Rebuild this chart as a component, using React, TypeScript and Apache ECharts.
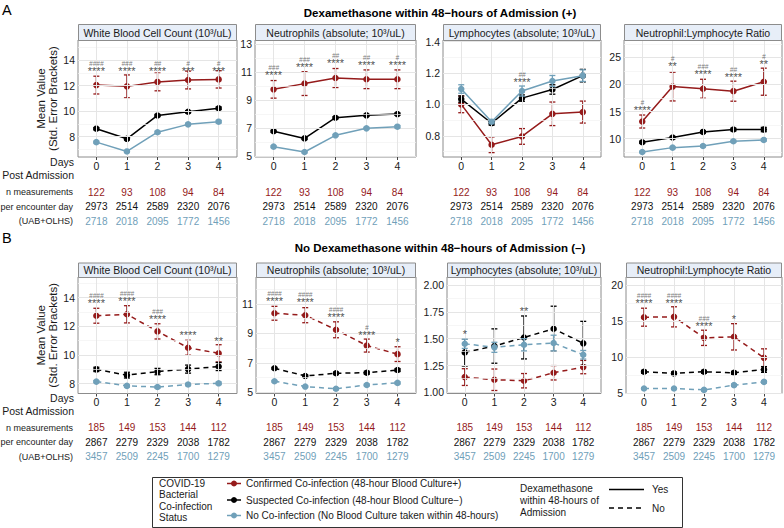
import React, { useEffect, useRef } from 'react';
import * as echarts from 'echarts';

// ---------------- DATA ----------------
const dayValues = [0, 1, 2, 3, 4];

// counts (n measurements per encounter day)
const nA_conf = [122, 93, 108, 94, 84];
const nA_susp = [2973, 2514, 2589, 2320, 2076];
const nA_none = [2718, 2018, 2095, 1772, 1456];
const nB_conf = [185, 149, 153, 144, 112];
const nB_susp = [2867, 2279, 2329, 2038, 1782];
const nB_none = [3457, 2509, 2245, 1700, 1279];

// Panel A1: WBC, dexamethasone +
const aWbcConf = [12.05, 11.95, 12.3, 12.45, 12.5];
const aWbcConfSE = [0.7, 0.9, 0.7, 0.7, 0.68];
const aWbcSusp = [8.62, 7.82, 9.66, 9.95, 10.23];
const aWbcSuspSE = [0.08, 0.08, 0.08, 0.09, 0.1];
const aWbcNone = [7.56, 6.83, 8.34, 8.96, 9.17];
const aWbcNoneSE = [0.07, 0.07, 0.08, 0.09, 0.1];
const aWbcStarY = [13.4, 13.4, 13.4, 13.4, 13.4];
const aWbcStars = ['****', '****', '****', '***', '***'];
const aWbcHash = ['####', '###', '##', '#', '#'];

// Panel A2: Neutrophils
const aNeuConf = [9.77, 10.18, 10.58, 10.49, 10.49];
const aNeuConfSE = [0.63, 0.85, 0.68, 0.67, 0.67];
const aNeuSusp = [6.77, 6.26, 7.74, 7.91, 8.0];
const aNeuSuspSE = [0.07, 0.07, 0.07, 0.07, 0.08];
const aNeuNone = [5.67, 5.29, 6.48, 6.98, 7.1];
const aNeuNoneSE = [0.06, 0.06, 0.06, 0.07, 0.08];
const aNeuStarY = [11.01, 11.61, 11.85, 11.75, 11.75];
const aNeuStars = ['****', '****', '****', '****', '****'];
const aNeuHash = ['###', '###', '##', '##', '#'];

// Panel A3: Lymphocytes
const aLymConf = [1.0, 0.743, 0.796, 0.94, 0.951];
const aLymConfSE = [0.053, 0.05, 0.05, 0.075, 0.07];
const aLymSusp = [1.034, 0.88, 1.04, 1.095, 1.183];
const aLymSuspSE = [0.02, 0.012, 0.02, 0.03, 0.04];
const aLymNone = [1.098, 0.89, 1.085, 1.149, 1.183];
const aLymNoneSE = [0.027, 0.012, 0.032, 0.035, 0.037];
const aLymStarY = [null, null, 1.16, null, null];
const aLymStars = ['', '', '****', '', ''];
const aLymHash = ['', '', '##', '', ''];

// Panel A4: NLR
const aNlrConf = [13.15, 19.6, 19.2, 18.75, 20.5];
const aNlrConfSE = [1.2, 2.65, 1.75, 1.85, 2.5];
const aNlrSusp = [9.32, 10.19, 11.23, 11.67, 11.67];
const aNlrSuspSE = [0.2, 0.2, 0.2, 0.25, 0.4];
const aNlrNone = [7.53, 8.33, 8.64, 9.5, 9.75];
const aNlrNoneSE = [0.12, 0.15, 0.15, 0.2, 0.2];
const aNlrStarY = [15.74, 23.9, 22.4, 22.0, 24.3];
const aNlrStars = ['****', '**', '****', '****', '**'];
const aNlrHash = ['#', '#', '###', '##', '#'];

// Panel B1: WBC, no dexamethasone
const bWbcConf = [12.74, 12.84, 11.65, 10.51, 10.12];
const bWbcConfSE = [0.52, 0.6, 0.53, 0.52, 0.6];
const bWbcSusp = [9.0, 8.6, 8.85, 9.02, 9.2];
const bWbcSuspSE = [0.15, 0.2, 0.22, 0.28, 0.28];
const bWbcNone = [8.15, 7.85, 7.77, 7.95, 8.03];
const bWbcNoneSE = [0.07, 0.07, 0.07, 0.08, 0.09];
const bWbcStarY = [13.84, 14.0, 12.72, 11.58, 11.21];
const bWbcStars = ['****', '****', '****', '****', '**'];
const bWbcHash = ['####', '####', '###', '', ''];

// Panel B2: Neutrophils
const bNeuConf = [10.37, 10.24, 9.25, 8.18, 7.6];
const bNeuConfSE = [0.47, 0.51, 0.54, 0.44, 0.5];
const bNeuSusp = [6.64, 6.12, 6.3, 6.34, 6.52];
const bNeuSuspSE = [0.06, 0.07, 0.08, 0.1, 0.1];
const bNeuNone = [5.76, 5.4, 5.25, 5.51, 5.65];
const bNeuNoneSE = [0.05, 0.05, 0.06, 0.06, 0.07];
const bNeuStarY = [11.43, 11.36, 10.3, 9.13, 8.6];
const bNeuStars = ['****', '****', '****', '****', '*'];
const bNeuHash = ['####', '####', '####', '#', ''];

// Panel B3: Lymphocytes
const bLymConf = [1.143, 1.118, 1.109, 1.183, 1.236];
const bLymConfSE = [0.078, 0.1, 0.067, 0.067, 0.062];
const bLymSusp = [1.373, 1.432, 1.512, 1.593, 1.457];
const bLymSuspSE = [0.127, 0.16, 0.2, 0.21, 0.205];
const bLymNone = [1.453, 1.42, 1.444, 1.46, 1.351];
const bLymNoneSE = [0.043, 0.047, 0.057, 0.073, 0.04];
const bLymStarY = [1.575, null, 1.79, null, null];
const bLymStars = ['*', '', '**', '', ''];
const bLymHash = ['', '', '', '', ''];

// Panel B4: NLR
const bNlrConf = [15.51, 15.56, 12.64, 12.78, 9.86];
const bNlrConfSE = [1.25, 1.4, 1.06, 1.83, 1.25];
const bNlrSusp = [7.92, 7.69, 7.92, 7.78, 8.24];
const bNlrSuspSE = [0.2, 0.2, 0.2, 0.2, 0.4];
const bNlrNone = [5.6, 5.6, 5.4, 6.06, 6.52];
const bNlrNoneSE = [0.12, 0.12, 0.12, 0.15, 0.18];
const bNlrStarY = [17.96, 17.96, 14.77, 15.74, null];
const bNlrStars = ['****', '****', '****', '*', ''];
const bNlrHash = ['####', '####', '###', '', ''];

// axis definitions
const titles = [
  'White Blood Cell Count (10³/uL)',
  'Neutrophils (absolute; 10³/uL)',
  'Lymphocytes (absolute; 10³/uL)',
  'Neutrophil:Lymphocyte Ratio',
];
const aRanges = [[6.39, 15.6], [4.93, 13.3], [0.665, 1.41], [6.6, 28.2]];
const bRanges = [[7.32, 15.44], [4.93, 12.83], [0.99, 2.075], [4.9, 21.1]];
const aTicks = [[8, 10, 12, 14], [5, 7, 9, 11, 13], [0.8, 1.0, 1.2, 1.4], [10, 15, 20, 25]];
const aMinor = [[7, 9, 11, 13, 15], [6, 8, 10, 12], [0.7, 0.9, 1.1, 1.3], [7.5, 12.5, 17.5, 22.5, 27.5]];
const bTicks = [[8, 10, 12, 14], [5, 7, 9, 11], [1.0, 1.25, 1.5, 1.75, 2.0], [5, 10, 15, 20]];
const bMinor = [[9, 11, 13, 15], [6, 8, 10, 12], [1.125, 1.375, 1.625, 1.875], [7.5, 12.5, 17.5]];
const aDec = [0, 0, 1, 0];
const bDec = [0, 0, 2, 0];

// ---------------- STYLE / LAYOUT ----------------
const FONT = '"Liberation Sans", Arial, Helvetica, sans-serif';
const RED = '#951B1B';
const BLACK = '#000000';
const BLUE = '#70A0B9';
const XMIN = -0.6;
const XMAX = 4.6;

const panelXA = [[78, 237], [255, 416], [443, 601], [624, 782]];
const panelXB = [[78, 237], [256, 416], [447, 601], [626, 782]];
const rowA = { stripTop: 24, top: 40, bottom: 157, nOff: 35 };
const rowB = { stripTop: 262.5, top: 277, bottom: 393.5, nOff: 34 };

type Panel = {
  title: string; range: number[]; ticks: number[]; minor: number[]; dec: number;
  conf: number[]; confSE: number[]; susp: number[]; suspSE: number[]; none: number[]; noneSE: number[];
  starY: (number | null)[]; stars: string[]; hash: string[];
  dashed: boolean; x: number[]; row: typeof rowA;
  nConf: number[]; nSusp: number[]; nNone: number[];
};

const panels: Panel[] = [
  { title: titles[0], range: aRanges[0], ticks: aTicks[0], minor: aMinor[0], dec: aDec[0], conf: aWbcConf, confSE: aWbcConfSE, susp: aWbcSusp, suspSE: aWbcSuspSE, none: aWbcNone, noneSE: aWbcNoneSE, starY: aWbcStarY, stars: aWbcStars, hash: aWbcHash, dashed: false, x: panelXA[0], row: rowA, nConf: nA_conf, nSusp: nA_susp, nNone: nA_none },
  { title: titles[1], range: aRanges[1], ticks: aTicks[1], minor: aMinor[1], dec: aDec[1], conf: aNeuConf, confSE: aNeuConfSE, susp: aNeuSusp, suspSE: aNeuSuspSE, none: aNeuNone, noneSE: aNeuNoneSE, starY: aNeuStarY, stars: aNeuStars, hash: aNeuHash, dashed: false, x: panelXA[1], row: rowA, nConf: nA_conf, nSusp: nA_susp, nNone: nA_none },
  { title: titles[2], range: aRanges[2], ticks: aTicks[2], minor: aMinor[2], dec: aDec[2], conf: aLymConf, confSE: aLymConfSE, susp: aLymSusp, suspSE: aLymSuspSE, none: aLymNone, noneSE: aLymNoneSE, starY: aLymStarY, stars: aLymStars, hash: aLymHash, dashed: false, x: panelXA[2], row: rowA, nConf: nA_conf, nSusp: nA_susp, nNone: nA_none },
  { title: titles[3], range: aRanges[3], ticks: aTicks[3], minor: aMinor[3], dec: aDec[3], conf: aNlrConf, confSE: aNlrConfSE, susp: aNlrSusp, suspSE: aNlrSuspSE, none: aNlrNone, noneSE: aNlrNoneSE, starY: aNlrStarY, stars: aNlrStars, hash: aNlrHash, dashed: false, x: panelXA[3], row: rowA, nConf: nA_conf, nSusp: nA_susp, nNone: nA_none },
  { title: titles[0], range: bRanges[0], ticks: bTicks[0], minor: bMinor[0], dec: bDec[0], conf: bWbcConf, confSE: bWbcConfSE, susp: bWbcSusp, suspSE: bWbcSuspSE, none: bWbcNone, noneSE: bWbcNoneSE, starY: bWbcStarY, stars: bWbcStars, hash: bWbcHash, dashed: true, x: panelXB[0], row: rowB, nConf: nB_conf, nSusp: nB_susp, nNone: nB_none },
  { title: titles[1], range: bRanges[1], ticks: bTicks[1], minor: bMinor[1], dec: bDec[1], conf: bNeuConf, confSE: bNeuConfSE, susp: bNeuSusp, suspSE: bNeuSuspSE, none: bNeuNone, noneSE: bNeuNoneSE, starY: bNeuStarY, stars: bNeuStars, hash: bNeuHash, dashed: true, x: panelXB[1], row: rowB, nConf: nB_conf, nSusp: nB_susp, nNone: nB_none },
  { title: titles[2], range: bRanges[2], ticks: bTicks[2], minor: bMinor[2], dec: bDec[2], conf: bLymConf, confSE: bLymConfSE, susp: bLymSusp, suspSE: bLymSuspSE, none: bLymNone, noneSE: bLymNoneSE, starY: bLymStarY, stars: bLymStars, hash: bLymHash, dashed: true, x: panelXB[2], row: rowB, nConf: nB_conf, nSusp: nB_susp, nNone: nB_none },
  { title: titles[3], range: bRanges[3], ticks: bTicks[3], minor: bMinor[3], dec: bDec[3], conf: bNlrConf, confSE: bNlrConfSE, susp: bNlrSusp, suspSE: bNlrSuspSE, none: bNlrNone, noneSE: bNlrNoneSE, starY: bNlrStarY, stars: bNlrStars, hash: bNlrHash, dashed: true, x: panelXB[3], row: rowB, nConf: nB_conf, nSusp: nB_susp, nNone: nB_none },
];

function buildOption() {
  const grid: any[] = [];
  const xAxis: any[] = [];
  const yAxis: any[] = [];
  const series: any[] = [];
  const graphic: any[] = [];

  panels.forEach((p, i) => {
    const left = p.x[0];
    const width = p.x[1] - p.x[0];
    const top = p.row.top;
    const height = p.row.bottom - p.row.top;
    grid.push({ left, top, width, height, show: true, borderColor: '#8C8C8C', borderWidth: 1, backgroundColor: '#ffffff', containLabel: false });

    xAxis.push({
      type: 'value', gridIndex: i, min: XMIN, max: XMAX, position: 'bottom',
      axisLine: { show: false },
      splitLine: { show: false },
      axisTick: { show: true, length: 3, lineStyle: { color: '#444', width: 1 }, customValues: dayValues },
      axisLabel: { show: true, customValues: dayValues, margin: 3, fontSize: 10.5, color: '#1a1a1a', fontFamily: FONT, formatter: (v: number) => String(v) },
    });
    xAxis.push({
      type: 'value', gridIndex: i, min: XMIN, max: XMAX, position: 'bottom', offset: 0,
      axisLine: { show: false }, splitLine: { show: false }, axisTick: { show: false },
      axisLabel: {
        show: true, customValues: dayValues, margin: p.row.nOff - 7.25, fontFamily: FONT,
        formatter: (v: number) => {
          const k = Math.round(v);
          return `{r|${p.nConf[k]}}\n{k|${p.nSusp[k]}}\n{b|${p.nNone[k]}}`;
        },
        rich: {
          r: { color: RED, fontSize: 10, lineHeight: 14.5, fontFamily: FONT },
          k: { color: '#111', fontSize: 10, lineHeight: 14.5, fontFamily: FONT },
          b: { color: BLUE, fontSize: 10, lineHeight: 14.5, fontFamily: FONT },
        },
      },
    });
    yAxis.push({
      type: 'value', gridIndex: i, min: p.range[0], max: p.range[1],
      axisLine: { show: false }, splitLine: { show: false },
      axisTick: { show: true, length: 3, lineStyle: { color: '#444', width: 1 }, customValues: p.ticks },
      axisLabel: { show: true, customValues: p.ticks, margin: 3, fontSize: 10.5, color: '#1a1a1a', fontFamily: FONT, formatter: (v: number) => v.toFixed(p.dec) },
    });

    const xi = 2 * i;
    // grid lines
    series.push({
      type: 'line', xAxisIndex: xi, yAxisIndex: i, data: [], silent: true, z: 1,
      markLine: {
        silent: true, symbol: ['none', 'none'], label: { show: false }, animation: false,
        data: [
          ...p.minor.map((v) => ({ yAxis: v, lineStyle: { color: '#F2F2F2', width: 0.7, type: 'solid' } })),
          ...p.ticks.map((v) => ({ yAxis: v, lineStyle: { color: '#E5E5E5', width: 1, type: 'solid' } })),
          ...dayValues.map((v) => ({ xAxis: v, lineStyle: { color: '#E5E5E5', width: 1, type: 'solid' } })),
        ],
      },
    });

    const groups = [
      { vals: p.conf, se: p.confSE, color: RED },
      { vals: p.susp, se: p.suspSE, color: BLACK },
      { vals: p.none, se: p.noneSE, color: BLUE },
    ];
    groups.forEach((g, gi) => {
      series.push({
        type: 'custom', xAxisIndex: xi, yAxisIndex: i, z: 3 + gi, silent: true,
        data: dayValues.map((d, j) => [d, g.vals[j], g.se[j]]),
        encode: { x: 0, y: 1 },
        renderItem: (params: any, api: any) => {
          const x = api.value(0);
          const m = api.value(1);
          const se = api.value(2);
          const t = api.coord([x, m + se]);
          const b = api.coord([x, m - se]);
          const hw = 3;
          const st = { stroke: g.color, lineWidth: 1.3, fill: null };
          return {
            type: 'group',
            children: [
              { type: 'line', shape: { x1: t[0], y1: t[1], x2: b[0], y2: b[1] }, style: st },
              { type: 'line', shape: { x1: t[0] - hw, y1: t[1], x2: t[0] + hw, y2: t[1] }, style: st },
              { type: 'line', shape: { x1: b[0] - hw, y1: b[1], x2: b[0] + hw, y2: b[1] }, style: st },
            ],
          };
        },
      });
      series.push({
        type: 'line', xAxisIndex: xi, yAxisIndex: i, z: 3 + gi, silent: true,
        data: dayValues.map((d, j) => [d, g.vals[j]]),
        symbol: 'circle', symbolSize: 6.5, showSymbol: true,
        itemStyle: { color: g.color, borderWidth: 0 },
        lineStyle: { color: g.color, width: 1.5, type: p.dashed ? [5, 4] : 'solid' },
      });
    });

    // significance annotations
    series.push({
      type: 'scatter', xAxisIndex: xi, yAxisIndex: i, z: 8, silent: true,
      symbolSize: 1, itemStyle: { color: 'rgba(0,0,0,0)' },
      data: dayValues.map((d, j) => [d, p.starY[j] == null ? NaN : p.starY[j]]),
      label: {
        show: true, position: 'inside', align: 'center', verticalAlign: 'middle',
        formatter: (params: any) => {
          const j = params.dataIndex;
          if (!p.stars[j]) return '';
          return `{h|${p.hash[j] || ' '}}\n{s|${p.stars[j]}}`;
        },
        rich: {
          h: { fontSize: 6.5, fontStyle: 'italic', color: '#555', lineHeight: 6, fontFamily: FONT, align: 'center' },
          s: { fontSize: 11, color: '#1a1a1a', lineHeight: 9, fontFamily: FONT, align: 'center' },
        },
      },
    });

    // strip
    graphic.push({
      type: 'rect', z: 20,
      shape: { x: left + 0.5, y: p.row.stripTop + 0.5, width: width - 1, height: top - p.row.stripTop },
      style: { fill: '#E7EEF8', stroke: '#8C8C8C', lineWidth: 1 },
    });
    graphic.push({
      type: 'text', z: 21, x: left + width / 2, y: (p.row.stripTop + top) / 2 + 0.5,
      style: { text: p.title, fontSize: 10.5, fontFamily: FONT, fill: '#1a1a1a', textAlign: 'center', textVerticalAlign: 'middle' },
    });
  });

  // row labels
  [rowA, rowB].forEach((r) => {
    graphic.push({ type: 'text', x: 47, y: (r.top + r.bottom) / 2, rotation: Math.PI / 2, style: { text: 'Mean Value\n(Std. Error Brackets)', fontSize: 11.5, lineHeight: 12.5, fontFamily: FONT, fill: '#1a1a1a', textAlign: 'center', textVerticalAlign: 'middle' } });
    graphic.push({ type: 'text', x: 74, y: r.bottom + 4.5, style: { text: 'Days', fontSize: 10.5, fontFamily: FONT, fill: '#1a1a1a', textAlign: 'right', textVerticalAlign: 'middle' } });
    graphic.push({ type: 'text', x: 74, y: r.bottom + 17.5, style: { text: 'Post Admission', fontSize: 10.5, fontFamily: FONT, fill: '#1a1a1a', textAlign: 'right', textVerticalAlign: 'middle' } });
    graphic.push({ type: 'text', x: 73, y: r.bottom + r.nOff, style: { text: 'n measurements', fontSize: 9, fontFamily: FONT, fill: '#1a1a1a', textAlign: 'right', textVerticalAlign: 'middle' } });
    graphic.push({ type: 'text', x: 73, y: r.bottom + r.nOff + 14.5, style: { text: 'per encounter day', fontSize: 9, fontFamily: FONT, fill: '#1a1a1a', textAlign: 'right', textVerticalAlign: 'middle' } });
    graphic.push({ type: 'text', x: 73, y: r.bottom + r.nOff + 29, style: { text: '(UAB+OLHS)', fontSize: 9, fontFamily: FONT, fill: '#1a1a1a', textAlign: 'right', textVerticalAlign: 'middle' } });
  });

  graphic.push({ type: 'text', x: 2, y: 10, style: { text: 'A', fontSize: 14.5, fontFamily: FONT, fill: '#000', textAlign: 'left', textVerticalAlign: 'middle' } });
  graphic.push({ type: 'text', x: 2, y: 238, style: { text: 'B', fontSize: 14.5, fontFamily: FONT, fill: '#000', textAlign: 'left', textVerticalAlign: 'middle' } });
  graphic.push({ type: 'text', x: 440, y: 12.5, style: { text: 'Dexamethasone within 48\u2212hours of Admission (+)', fontSize: 11.5, fontWeight: 'bold', fontFamily: FONT, fill: '#000', textAlign: 'center', textVerticalAlign: 'middle' } });
  graphic.push({ type: 'text', x: 440, y: 248, style: { text: 'No Dexamethasone within 48\u2212hours of Admission (\u2013)', fontSize: 11.5, fontWeight: 'bold', fontFamily: FONT, fill: '#000', textAlign: 'center', textVerticalAlign: 'middle' } });

  // legend
  const LT = 477.5;
  const LF = 10;
  graphic.push({ type: 'rect', z: 30, shape: { x: 152.5, y: LT, width: 530, height: 527.5 - LT }, style: { fill: '#fff', stroke: '#333', lineWidth: 1 } });
  ['COVID-19', 'Bacterial', 'Co-infection', 'Status'].forEach((t, k) => {
    graphic.push({ type: 'text', z: 31, x: 159, y: LT + 6 + k * 11.4, style: { text: t, fontSize: LF, fontFamily: FONT, fill: '#1a1a1a', textAlign: 'left', textVerticalAlign: 'middle' } });
  });
  const entries = [
    { c: RED, t: 'Confirmed Co-infection (48-hour Blood Culture+)', y: LT + 6 },
    { c: BLACK, t: 'Suspected Co-infection (48-hour Blood Culture\u2212)', y: LT + 22.5 },
    { c: BLUE, t: 'No Co-infection (No Blood Culture taken within 48-hours)', y: LT + 38 },
  ];
  entries.forEach((e) => {
    graphic.push({ type: 'line', z: 31, shape: { x1: 227, y1: e.y, x2: 241, y2: e.y }, style: { stroke: e.c, lineWidth: 1.5 } });
    graphic.push({ type: 'circle', z: 32, shape: { cx: 234, cy: e.y, r: 3 }, style: { fill: e.c } });
    graphic.push({ type: 'text', z: 31, x: 246, y: e.y, style: { text: e.t, fontSize: LF, fontFamily: FONT, fill: '#1a1a1a', textAlign: 'left', textVerticalAlign: 'middle' } });
  });
  ['Dexamethasone', 'within 48-hours of', 'Admission'].forEach((t, k) => {
    graphic.push({ type: 'text', z: 31, x: 520, y: LT + 11 + k * 12, style: { text: t, fontSize: LF, fontFamily: FONT, fill: '#1a1a1a', textAlign: 'left', textVerticalAlign: 'middle' } });
  });
  graphic.push({ type: 'line', z: 31, shape: { x1: 609, y1: LT + 12, x2: 644, y2: LT + 12 }, style: { stroke: '#000', lineWidth: 1.5 } });
  graphic.push({ type: 'text', z: 31, x: 652, y: LT + 12, style: { text: 'Yes', fontSize: LF, fontFamily: FONT, fill: '#1a1a1a', textAlign: 'left', textVerticalAlign: 'middle' } });
  graphic.push({ type: 'line', z: 31, shape: { x1: 609, y1: LT + 30.5, x2: 644, y2: LT + 30.5 }, style: { stroke: '#000', lineWidth: 1.5, lineDash: [5, 4] } });
  graphic.push({ type: 'text', z: 31, x: 652, y: LT + 30.5, style: { text: 'No', fontSize: LF, fontFamily: FONT, fill: '#1a1a1a', textAlign: 'left', textVerticalAlign: 'middle' } });

  return {
    animation: false,
    backgroundColor: '#ffffff',
    textStyle: { fontFamily: FONT },
    grid, xAxis, yAxis, series, graphic,
  };
}

export default function App() {
  const ref = useRef<HTMLDivElement>(null);
  useEffect(() => {
    if (!ref.current) return;
    const chart = echarts.init(ref.current, undefined, { renderer: 'svg' });
    chart.setOption(buildOption() as any);
    return () => chart.dispose();
  }, []);
  return <div ref={ref} style={{ position: 'fixed', left: 0, top: 0, width: 784, height: 528, background: '#fff' }} />;
}
